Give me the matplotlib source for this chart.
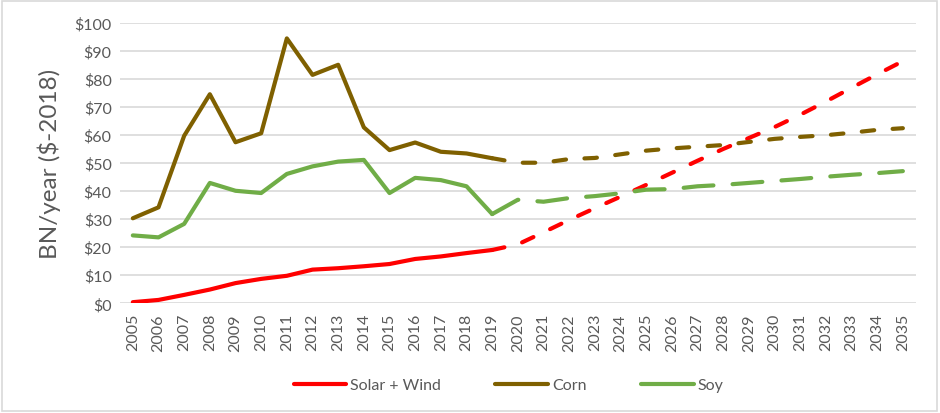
import matplotlib
matplotlib.use("Agg")
import matplotlib.pyplot as plt
from matplotlib.patches import Rectangle
from matplotlib.lines import Line2D

plt.rcParams['font.family'] = ['Lato', 'DejaVu Sans']
plt.rcParams['lines.scale_dashes'] = False

years_hist = list(range(2005, 2020))
years_proj = list(range(2019, 2036))

solar_hist = [0.4, 1.2, 3.0, 4.9, 7.2, 8.7, 9.8, 12.0, 12.5, 13.2, 14.0, 15.8, 16.7, 17.9, 19.0]
corn_hist = [30.3, 34.2, 59.7, 74.5, 57.4, 60.6, 94.4, 81.4, 85.0, 62.7, 54.6, 57.3, 54.0, 53.4, 51.7]
soy_hist = [24.2, 23.5, 28.3, 42.9, 40.1, 39.3, 46.1, 48.8, 50.5, 51.1, 39.3, 44.7, 43.9, 41.7, 31.8]

# projections start at the 2019 value
solar_proj = [19.0, 21.0, 25.3, 29.7, 33.9, 38.0, 42.2, 46.5, 50.8, 55.0, 58.9, 62.8, 67.2, 71.9, 76.8, 81.6, 86.3]
corn_proj = [51.7, 50.1, 50.1, 51.4, 51.8, 53.1, 54.4, 55.2, 55.8, 56.4, 57.5, 58.6, 59.3, 59.9, 60.8, 61.8, 62.4]
soy_proj = [31.8, 36.9, 36.2, 37.5, 38.2, 39.2, 40.5, 40.7, 41.7, 42.2, 42.9, 43.6, 44.3, 45.1, 45.8, 46.4, 47.1]

all_years = list(range(2005, 2036))
yticks = list(range(0, 101, 10))

C_SOLAR = '#FF0000'
C_CORN = '#7F6000'
C_SOY = '#70AD47'
GRAY = '#595959'

fig = plt.figure(figsize=(9.4, 4.14), dpi=100)
fig.patches.append(Rectangle((0.002, 0.004), 0.995, 0.99, transform=fig.transFigure,
                             fill=False, edgecolor='#d9d9d9', linewidth=1.2))

ax = fig.add_axes([120/940, 1-304.3/414, (915.7-120)/940, (304.3-23.7)/414])
ax.set_xlim(2004.5, 2035.5)
ax.set_ylim(0, 100)
ax.set_yticks(yticks)
ax.set_yticklabels([f'${v}' for v in yticks])
ax.set_xticks(all_years)
ax.set_xticklabels([str(y) for y in all_years], rotation=90)
ax.grid(axis='y', color='#d9d9d9', linewidth=1.2)
ax.set_axisbelow(True)
for s in ax.spines.values():
    s.set_visible(False)
ax.tick_params(axis='both', length=0, colors=GRAY, labelsize=11.5)
ax.tick_params(axis='y', pad=6)
ax.tick_params(axis='x', pad=7)
ax.set_ylabel('BN/year ($-2018)', fontsize=17.5, color=GRAY, labelpad=10)

lw = 3.0
kw = dict(linewidth=lw, solid_capstyle='round', dash_capstyle='round', solid_joinstyle='round')
ax.plot(years_hist, solar_hist, color=C_SOLAR, **kw)
ax.plot(years_hist, corn_hist, color=C_CORN, **kw)
ax.plot(years_hist, soy_hist, color=C_SOY, **kw)

l1, = ax.plot(years_proj, solar_proj, color=C_SOLAR, **kw)
l1.set_dashes((9.0, 13.3))
l2, = ax.plot(years_proj, corn_proj, color=C_CORN, **kw)
l2.set_dashes((9.0, 13.3))
l3, = ax.plot(years_proj, soy_proj, color=C_SOY, **kw)
l3.set_dashes((21.5, 13.8))

handles = [Line2D([], [], color=c, linewidth=lw, solid_capstyle='round') for c in (C_SOLAR, C_CORN, C_SOY)]
leg = fig.legend(handles, ['Solar + Wind', 'Corn', 'Soy'], loc='center',
                 bbox_to_anchor=(0.541, 1-386/414), ncol=3, frameon=False,
                 fontsize=11.5, handlelength=3.3, handletextpad=0.25, columnspacing=3.4)
for t in leg.get_texts():
    t.set_color(GRAY)

fig.savefig('out.png', dpi=100)
